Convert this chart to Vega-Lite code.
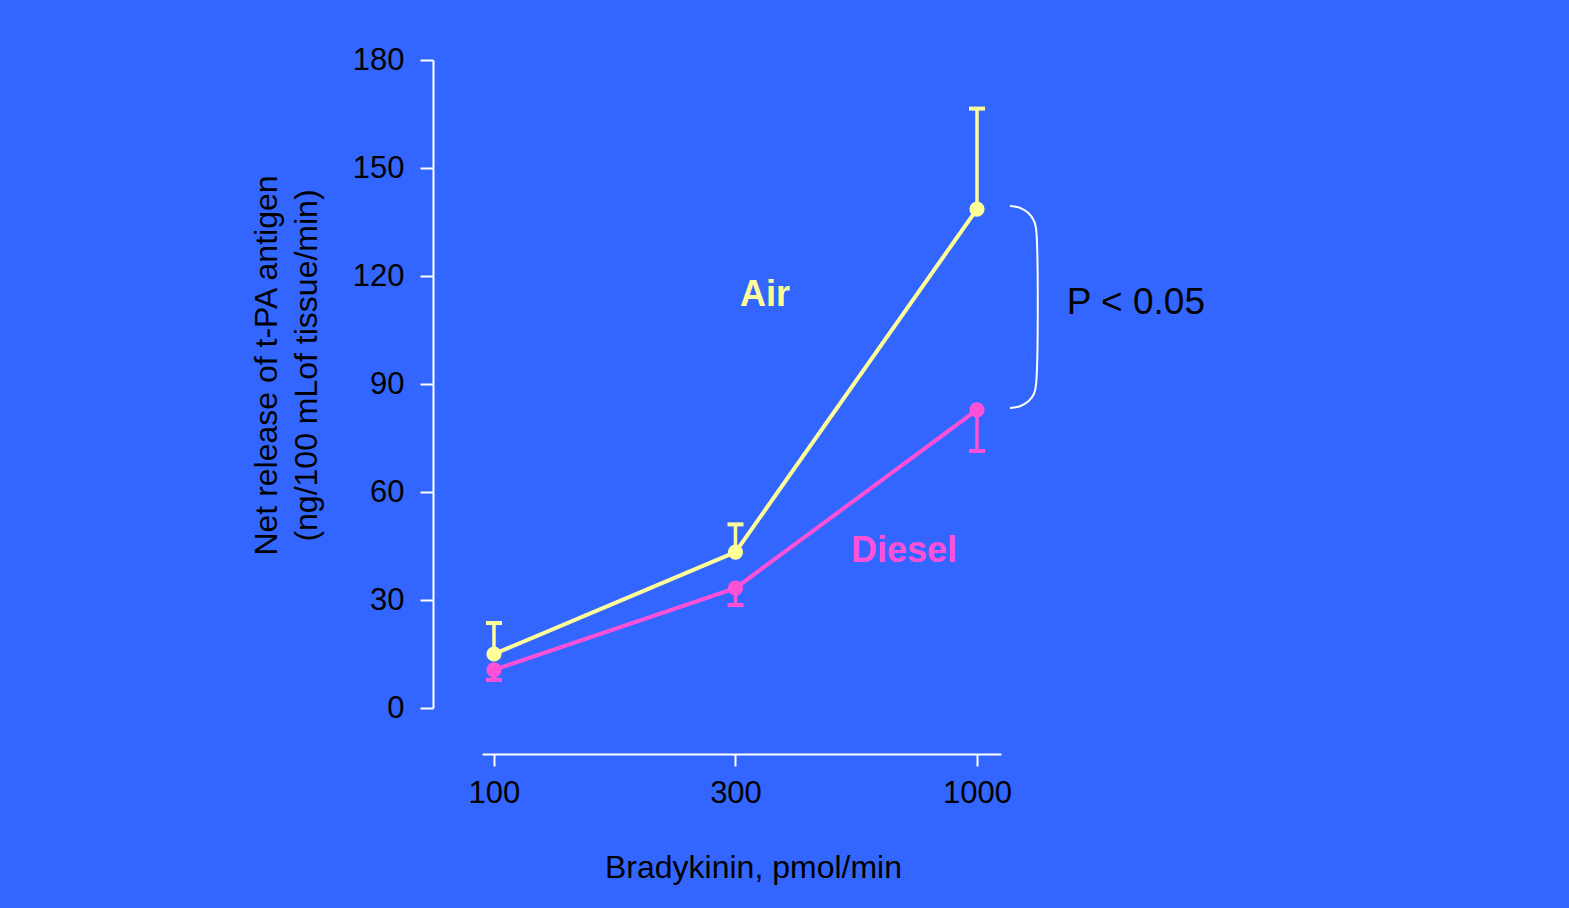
{
  "$schema": "https://vega.github.io/schema/vega-lite/v6.json",
  "width": 519,
  "height": 648,
  "autosize": {"type": "none"},
  "padding": {"left": 482, "top": 60, "right": 568, "bottom": 200},
  "background": "#3366FF",
  "config": {"view": {"stroke": null}, "font": "Liberation Sans"},
  "datasets": {
    "series": [
      {"group": "Air", "dose": "100", "mean": 15, "err": 23.6},
      {"group": "Air", "dose": "300", "mean": 43.3, "err": 51},
      {"group": "Air", "dose": "1000", "mean": 138.6, "err": 166.5},
      {"group": "Diesel", "dose": "100", "mean": 10.6, "err": 7.8},
      {"group": "Diesel", "dose": "300", "mean": 33.3, "err": 28.6},
      {"group": "Diesel", "dose": "1000", "mean": 82.8, "err": 71.4}
    ],
    "bracket": [
      {"i": 0, "xpos": 2.1366, "y": 139.44},
      {"i": 1, "xpos": 2.1778, "y": 138.94},
      {"i": 2, "xpos": 2.2128, "y": 137.5},
      {"i": 3, "xpos": 2.2360, "y": 135.33},
      {"i": 4, "xpos": 2.2443, "y": 133.33},
      {"i": 5, "xpos": 2.2443, "y": 89.72},
      {"i": 6, "xpos": 2.2360, "y": 87.28},
      {"i": 7, "xpos": 2.2128, "y": 85.19},
      {"i": 8, "xpos": 2.1778, "y": 83.83},
      {"i": 9, "xpos": 2.1366, "y": 83.33}
    ],
    "labels": [
      {"group": "Air", "xpos": 1.122, "y": 114.7},
      {"group": "Diesel", "xpos": 1.698, "y": 43.6}
    ],
    "pvalue": [
      {"text": "P < 0.05", "xpos": 2.658, "y": 112.4}
    ]
  },
  "layer": [
    {
      "data": {"name": "series"},
      "encoding": {
        "x": {
          "field": "dose", "type": "ordinal", "sort": ["100", "300", "1000"],
          "scale": {"type": "point", "padding": 0.0745, "align": 0.333},
          "axis": {
            "offset": 46, "domainColor": "white", "domainWidth": 2,
            "tickColor": "white", "tickWidth": 2, "tickSize": 12,
            "labelAngle": 0, "labelColor": "black", "labelFontSize": 31, "labelPadding": 12,
            "title": "Bradykinin, pmol/min", "titleColor": "black", "titleFontSize": 32,
            "titleFontWeight": "normal", "titlePadding": 44, "titleX": 271
          }
        },
        "y": {
          "field": "mean", "type": "quantitative",
          "scale": {"domain": [0, 180], "nice": false},
          "axis": {
            "offset": 49, "values": [0, 30, 60, 90, 120, 150, 180], "grid": false,
            "domainColor": "white", "domainWidth": 2,
            "tickColor": "white", "tickWidth": 2, "tickSize": 13,
            "labelColor": "black", "labelFontSize": 31, "labelPadding": 16,
            "title": ["Net release of t-PA antigen", "(ng/100 mLof tissue/min)"],
            "titleColor": "black", "titleFontSize": 32, "titleFontWeight": "normal",
            "titlePadding": 29, "titleLineHeight": 40, "titleY": 305
          }
        },
        "color": {
          "field": "group", "type": "nominal",
          "scale": {"domain": ["Air", "Diesel"], "range": ["#FFFF99", "#FF50D8"]},
          "legend": null
        }
      },
      "layer": [
        {"mark": {"type": "rule", "strokeWidth": 3.5}, "encoding": {"y2": {"field": "err"}}},
        {"mark": {"type": "tick", "size": 16, "thickness": 4, "opacity": 1}, "encoding": {"y": {"field": "err", "type": "quantitative"}}},
        {"mark": {"type": "line", "strokeWidth": 4}},
        {"mark": {"type": "point", "filled": true, "size": 230, "opacity": 1}}
      ]
    },
    {
      "encoding": {
        "x": {
          "field": "xpos", "type": "quantitative",
          "scale": {"domain": [-0.0497, 2.0994], "nice": false, "zero": false},
          "axis": null
        },
        "y": {"field": "y", "type": "quantitative"}
      },
      "layer": [
        {
          "data": {"name": "bracket"},
          "mark": {"type": "line", "color": "white", "strokeWidth": 2, "interpolate": "catmull-rom"},
          "encoding": {"order": {"field": "i", "type": "quantitative"}}
        },
        {
          "data": {"name": "labels"},
          "mark": {"type": "text", "fontSize": 36, "fontWeight": "bold", "align": "center", "baseline": "middle"},
          "encoding": {"text": {"field": "group"}, "color": {"field": "group", "type": "nominal"}}
        },
        {
          "data": {"name": "pvalue"},
          "mark": {"type": "text", "fontSize": 37, "color": "black", "align": "center", "baseline": "middle"},
          "encoding": {"text": {"field": "text"}}
        }
      ]
    }
  ],
  "resolve": {"scale": {"x": "independent"}}
}
